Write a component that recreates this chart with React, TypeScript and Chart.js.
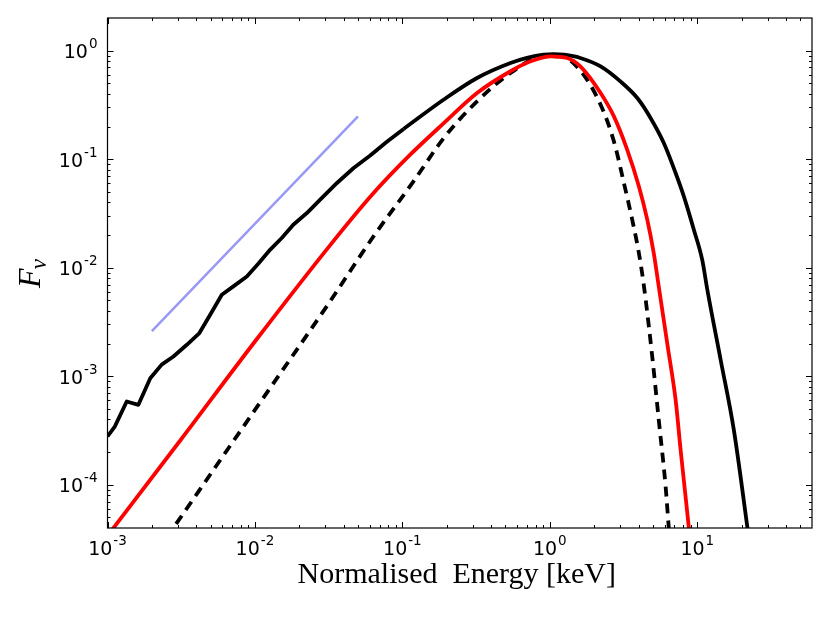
import React, { useEffect, useRef } from "react";
import { Chart, registerables } from "chart.js";

Chart.register(...registerables);

// ---- axis ranges & ticks ----
const X_MIN = 1e-3;
const X_MAX = 60;
const Y_MIN = 4e-5;
const Y_MAX = 2;
const xMajorValues = [1e-3, 1e-2, 1e-1, 1, 10];
const xMajorExps = ["-3", "-2", "-1", "0", "1"];
const yMajorValues = [1e-4, 1e-3, 1e-2, 1e-1, 1];
const yMajorExps = ["-4", "-3", "-2", "-1", "0"];
const xTitle = "Normalised  Energy [keV]";

// ---- series: black solid, noisy low-energy part ----
const blackLowE = [1.0e-3, 1.12e-3, 1.35e-3, 1.62e-3, 1.95e-3, 2.33e-3, 2.8e-3, 3.45e-3, 4.2e-3, 4.97e-3, 5.96e-3, 7.14e-3, 8.81e-3, 1.06e-2, 1.27e-2, 1.52e-2, 1.82e-2, 2.25e-2, 2.77e-2, 3.6e-2, 4.67e-2, 6.05e-2, 7.85e-2, 0.102];
const blackLowF = [2.79e-4, 3.44e-4, 5.86e-4, 5.46e-4, 9.6e-4, 1.28e-3, 1.52e-3, 1.95e-3, 2.5e-3, 3.69e-3, 5.64e-3, 6.73e-3, 8.32e-3, 1.1e-2, 1.47e-2, 1.88e-2, 2.49e-2, 3.19e-2, 4.24e-2, 6.04e-2, 8.3e-2, 0.108, 0.145, 0.19];

// ---- series: black solid, smooth high-energy part ----
const blackHighE = [0.102, 0.19, 0.321, 0.541, 0.7, 0.91, 1.06, 1.25, 1.61, 2.21, 3.01, 3.92, 4.82, 5.93, 7.13, 8.11, 9.48, 10.8, 11.7, 14.4, 17.7, 22.4];
const blackHighF = [0.19, 0.353, 0.56, 0.769, 0.857, 0.918, 0.931, 0.918, 0.857, 0.716, 0.521, 0.366, 0.24, 0.141, 0.0746, 0.0454, 0.0224, 0.01186, 6.27e-3, 1.42e-3, 3.21e-4, 3.2e-5];

// ---- series: red solid ----
const redE = [1.0e-3, 3.16e-3, 1.0e-2, 3.16e-2, 6.31e-2, 0.113, 0.191, 0.321, 0.541, 0.74, 1.01, 1.31, 1.61, 2.21, 2.72, 3.35, 4.02, 4.58, 5.07, 5.48, 6.31, 7.13, 7.71, 8.77, 9.12];
const redF = [3.39e-5, 2.63e-4, 2.09e-3, 1.55e-2, 4.8e-2, 0.11, 0.215, 0.407, 0.646, 0.798, 0.887, 0.855, 0.716, 0.407, 0.248, 0.122, 0.0561, 0.0277, 0.0136, 6.73e-3, 1.86e-3, 6.07e-4, 2.1e-4, 4.02e-5, 2.51e-5];

// ---- series: black dashed ----
const dashE = [2.51e-3, 1.0e-2, 3.16e-2, 6.31e-2, 0.119, 0.191, 0.321, 0.541, 0.91, 1.18, 1.61, 2.21, 2.72, 3.18, 3.62, 4.02, 4.35, 4.95, 5.48, 6.1, 6.41, 6.61];
const dashF = [3.24e-5, 4.9e-4, 4.68e-3, 1.91e-2, 6.25e-2, 0.157, 0.341, 0.622, 0.887, 0.887, 0.655, 0.318, 0.146, 0.0604, 0.0277, 0.0136, 6.73e-3, 1.52e-3, 3.97e-4, 9.64e-5, 4.02e-5, 2.51e-5];

// ---- series: light blue reference slope ----
const blueE = [2e-3, 5e-2];
const blueF = [2.6e-3, 0.248];

const pts = (xs: number[], ys: number[]) => xs.map((x, i) => ({ x, y: ys[i] }));

function minorTicks(min: number, max: number): number[] {
  const out: number[] = [];
  for (let d = Math.floor(Math.log10(min)) - 1; d <= Math.ceil(Math.log10(max)); d++) {
    for (let k = 2; k <= 9; k++) {
      const v = k * Math.pow(10, d);
      if (v > min * 1.0001 && v < max * 0.9999) out.push(v);
    }
  }
  return out;
}

const BASE_FONT = "19px 'DejaVu Sans'";
const EXP_FONT = "13.5px 'DejaVu Sans'";

function drawPow(ctx: CanvasRenderingContext2D, exp: string, x: number, baseline: number, align: "center" | "right") {
  ctx.font = BASE_FONT;
  const wb = ctx.measureText("10").width;
  ctx.font = EXP_FONT;
  const we = ctx.measureText(exp).width;
  const total = wb + 1 + we;
  const left = align === "center" ? x - total / 2 : x - total;
  ctx.textAlign = "left";
  ctx.textBaseline = "alphabetic";
  ctx.font = BASE_FONT;
  ctx.fillText("10", left, baseline);
  ctx.font = EXP_FONT;
  ctx.fillText(exp, left + wb + 1, baseline - 10);
}

const axesPlugin = {
  id: "mplAxes",
  afterDatasetsDraw(chart: any) {
    const { ctx, chartArea: a, scales } = chart;
    const xs = scales.x;
    const ys = scales.y;
    ctx.save();
    ctx.strokeStyle = "#000";
    ctx.lineWidth = 1;
    const seg = (x1: number, y1: number, x2: number, y2: number) => {
      ctx.beginPath();
      ctx.moveTo(x1, y1);
      ctx.lineTo(x2, y2);
      ctx.stroke();
    };
    const xTick = (v: number, len: number) => {
      const p = Math.round(xs.getPixelForValue(v)) + 0.5;
      seg(p, a.bottom, p, a.bottom - len);
      seg(p, a.top, p, a.top + len);
    };
    const yTick = (v: number, len: number) => {
      const p = Math.round(ys.getPixelForValue(v)) + 0.5;
      seg(a.left, p, a.left + len, p);
      seg(a.right, p, a.right - len, p);
    };
    minorTicks(X_MIN, X_MAX).forEach((v) => xTick(v, 3));
    xMajorValues.forEach((v) => xTick(v, 6));
    minorTicks(Y_MIN, Y_MAX).forEach((v) => yTick(v, 3));
    yMajorValues.forEach((v) => yTick(v, 6));
    ctx.lineWidth = 1.2;
    ctx.strokeRect(a.left, a.top, a.right - a.left, a.bottom - a.top);

    ctx.fillStyle = "#000";
    xMajorValues.forEach((v, i) => {
      drawPow(ctx, xMajorExps[i], xs.getPixelForValue(v), 555, "center");
    });
    yMajorValues.forEach((v, i) => {
      drawPow(ctx, yMajorExps[i], a.left - 10, ys.getPixelForValue(v) + 7.5, "right");
    });

    // x title
    ctx.font = "30px 'Liberation Serif'";
    ctx.textAlign = "center";
    ctx.textBaseline = "alphabetic";
    ctx.fillText(xTitle, (a.left + a.right) / 2 - 3, 583);

    // y title: F_nu (rotated)
    ctx.save();
    ctx.translate(40, (a.top + a.bottom) / 2);
    ctx.rotate(-Math.PI / 2);
    ctx.font = "italic 32px 'Liberation Serif'";
    const wF = ctx.measureText("F").width;
    ctx.font = "italic 23px 'Liberation Serif'";
    const wN = ctx.measureText("ν").width;
    const start = -(wF + wN) / 2;
    ctx.textAlign = "left";
    ctx.font = "italic 32px 'Liberation Serif'";
    ctx.fillText("F", start, 0);
    ctx.font = "italic 23px 'Liberation Serif'";
    ctx.fillText("ν", start + wF - 1, 6);
    ctx.restore();

    ctx.restore();
  },
};

export default function App() {
  const ref = useRef<HTMLCanvasElement | null>(null);
  useEffect(() => {
    if (!ref.current) return;
    const common = { pointRadius: 0, tension: 0, fill: false, clip: 0, borderJoinStyle: "round" as const };
    const smooth = { ...common, cubicInterpolationMode: "monotone" as const };
    const chart = new Chart(ref.current, {
      type: "line",
      data: {
        datasets: [
          { ...smooth, data: pts(redE, redF), borderColor: "#ff0000", borderWidth: 3.8, order: 1 },
          { ...smooth, data: pts(dashE, dashF), borderColor: "#000000", borderWidth: 3.8, borderDash: [10, 7], borderCapStyle: "butt", order: 2 },
          { ...smooth, data: pts(blackHighE, blackHighF), borderColor: "#000000", borderWidth: 3.8, order: 3 },
          { ...common, data: pts(blackLowE, blackLowF), borderColor: "#000000", borderWidth: 3.8, order: 4 },
          { ...common, data: pts(blueE, blueF), borderColor: "#9999f5", borderWidth: 2.5, order: 5 },
        ],
      },
      options: {
        animation: false,
        responsive: false,
        devicePixelRatio: 1,
        layout: { padding: { top: 18, right: 18, left: 0, bottom: 0 } },
        plugins: { legend: { display: false }, tooltip: { enabled: false } },
        events: [],
        scales: {
          x: {
            type: "logarithmic",
            min: X_MIN,
            max: X_MAX,
            grid: { display: false },
            border: { display: false },
            ticks: { display: false },
            afterFit: (s: any) => {
              s.height = 95;
            },
          },
          y: {
            type: "logarithmic",
            min: Y_MIN,
            max: Y_MAX,
            grid: { display: false },
            border: { display: false },
            ticks: { display: false },
            afterFit: (s: any) => {
              s.width = 107.5;
            },
          },
        },
      },
      plugins: [axesPlugin],
    });
    return () => chart.destroy();
  }, []);
  return (
    <div style={{ position: "absolute", left: 0, top: 0, width: 830, height: 623, background: "#fff" }}>
      <canvas ref={ref} width={830} height={623} style={{ width: 830, height: 623, display: "block" }} />
    </div>
  );
}
